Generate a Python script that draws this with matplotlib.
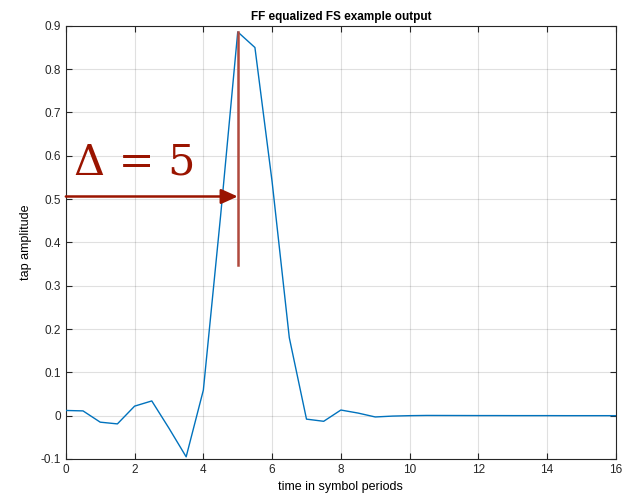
import matplotlib.pyplot as plt
import numpy as np

# fractionally spaced taps, half a symbol period apart
t = np.arange(0, 16.5, 0.5)
taps = [0.012, 0.011, -0.015, -0.019, 0.022, 0.034, -0.029, -0.095,
        0.059, 0.46, 0.886, 0.850, 0.54, 0.18, -0.008, -0.013,
        0.013, 0.006, -0.003, -0.001, 0.0, 0.0005, 0.0004, 0.0003,
        0.0002, 0.0002, 0.0001, 0.0001, 0.0001, 0.0, 0.0, 0.0, 0.0]

delay = 5
arrow_y = 0.506
vline_bottom = 0.348

x_ticks = list(range(0, 17, 2))
y_ticks = [-0.1, 0, 0.1, 0.2, 0.3, 0.4, 0.5, 0.6, 0.7, 0.8, 0.9]
y_tick_labels = ['-0.1', '0', '0.1', '0.2', '0.3', '0.4', '0.5', '0.6', '0.7', '0.8', '0.9']

plt.rcParams['font.family'] = ['Liberation Sans', 'DejaVu Sans']

fig = plt.figure(figsize=(6.33, 4.97), dpi=100)
ax = fig.add_axes([0.104, 0.0765, 0.869, 0.8715])

ax.plot(t, taps, color='#0072BD', linewidth=1.0, zorder=3)

# delay annotation
red = '#9A1400'
ax.plot([delay, delay], [vline_bottom, taps[10]], color='#B0493D', linewidth=1.8, zorder=4)
ax.annotate('', xy=(delay, arrow_y), xytext=(0, arrow_y),
            arrowprops=dict(arrowstyle='-|>,head_length=1.0,head_width=0.45',
                            color='#B0493D', lw=1.8, shrinkA=0, shrinkB=0,
                            fc=red, ec=red), zorder=4)
ax.text(0.24, 0.556, '\u0394 = 5', color=red, fontsize=31,
        family=['DejaVu Serif'], va='baseline', ha='left')

ax.set_xlim(0, 16)
ax.set_ylim(-0.1, 0.9)
ax.set_xticks(x_ticks)
ax.set_yticks(y_ticks)
ax.set_yticklabels(y_tick_labels)
ax.grid(True, color='#000000', alpha=0.12, linewidth=0.8)
ax.set_axisbelow(True)
ax.tick_params(direction='in', top=True, right=True, labelsize=8.5,
               colors='#262626', length=4, width=0.8)
for s in ax.spines.values():
    s.set_color('#262626')
    s.set_linewidth(0.8)

ax.set_title('FF equalized FS example output', fontsize=8.5, fontweight='bold', pad=4)
ax.set_xlabel('time in symbol periods', fontsize=9, labelpad=4)
ax.set_ylabel('tap amplitude', fontsize=9, labelpad=6)

fig.savefig('out.png', dpi=100)
